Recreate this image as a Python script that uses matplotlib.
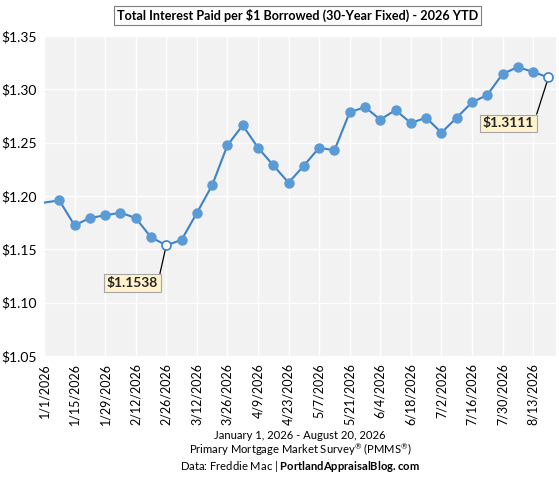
import datetime
import numpy as np
import matplotlib
matplotlib.use("Agg")
import matplotlib.pyplot as plt

plt.rcParams['font.family'] = ['Lato', 'DejaVu Sans']
plt.rcParams['mathtext.fontset'] = 'custom'
plt.rcParams['mathtext.rm'] = 'Lato'
plt.rcParams['mathtext.bf'] = 'Lato:bold'

# weekly PMMS dates, 1/1/2026 .. 8/20/2026
start = datetime.date(2026, 1, 1)
dates = [start + datetime.timedelta(days=7 * i) for i in range(34)]
values = [1.1938, 1.1959, 1.1725, 1.1794, 1.1819, 1.1844, 1.1794, 1.1613,
          1.1538, 1.1588, 1.1841, 1.2100, 1.2475, 1.2663, 1.2453, 1.2288,
          1.2125, 1.2284, 1.2453, 1.2428, 1.2784, 1.2834, 1.2716, 1.2806,
          1.2684, 1.2734, 1.2594, 1.2734, 1.2878, 1.2947, 1.3144, 1.3209,
          1.3163, 1.3111]
tick_dates = [start + datetime.timedelta(days=14 * i) for i in range(17)]
tick_labels = ["{}/{}/{}".format(d.month, d.day, d.year) for d in tick_dates]
yticks = [1.05, 1.10, 1.15, 1.20, 1.25, 1.30, 1.35]

blue = '#5B9BD5'
x = np.array([(d - start).days for d in dates])
tx = np.array([(d - start).days for d in tick_dates])
vals = np.array(values)

imin = int(np.argmin(vals))
ilast = len(vals) - 1
filled = [i for i in range(1, len(vals)) if i not in (imin, ilast)]

fig = plt.figure(figsize=(5.59, 4.8), dpi=100)
ax = fig.add_axes([0.0787, 0.2583, 0.916, 0.6667])
ax.set_facecolor('#F2F2F2')
for s in ax.spines.values():
    s.set_visible(False)

ax.plot(x, vals, color='#3E82C8', lw=1.5, zorder=3)
ax.plot(x[filled], vals[filled], 'o', color=blue, ms=6.5, zorder=4)
ax.plot(x[[imin, ilast]], vals[[imin, ilast]], 'o', mfc='white', mec='#3E82C8',
        mew=1.2, ms=6.5, zorder=5, clip_on=False)

ax.set_xlim(0, 234.5)
ax.set_ylim(1.05, 1.35)
ax.set_yticks(yticks)
ax.set_yticklabels(["${:.2f}".format(v) for v in yticks], fontsize=10)
ax.set_xticks(tx)
ax.set_xticklabels(tick_labels, rotation=90, fontsize=9)
ax.tick_params(length=0, pad=5)
ax.grid(True, color='white', lw=1)
ax.set_axisbelow(True)

box = dict(boxstyle='square,pad=0.2', fc='#FFF2CC', ec='#A6A6A6', lw=0.8)
ax.annotate("${:.4f}".format(vals[imin]), xy=(x[imin], vals[imin]),
            xytext=(-24.5, -27), textcoords='offset points', ha='center', va='center',
            fontsize=10, fontweight='bold', color='#262626', bbox=box,
            arrowprops=dict(arrowstyle='-', color='black', lw=0.9,
                            shrinkA=0, shrinkB=3, relpos=(1, 0.5)))
ax.annotate("${:.4f}".format(vals[ilast]), xy=(x[ilast], vals[ilast]),
            xytext=(-29, -33), textcoords='offset points', ha='center', va='center',
            fontsize=10, fontweight='bold', color='#262626', bbox=box,
            arrowprops=dict(arrowstyle='-', color='black', lw=0.9,
                            shrinkA=0, shrinkB=3, relpos=(1, 0.5)))

fig.text(0.532, 0.968, "Total Interest Paid per $1 Borrowed (30-Year Fixed) - 2026 YTD",
         ha='center', va='center', fontsize=9.1, fontweight='bold',
         bbox=dict(boxstyle='square,pad=0.25', fc='white', ec='#7F7F7F', lw=0.8))

fig.text(0.537, 0.093, "January 1, 2026 - August 20, 2026", ha='center', va='center', fontsize=8.1)
fig.text(0.537, 0.062, r"Primary Mortgage Market Survey$^{\circledR}$ (PMMS$^{\circledR}$)",
         ha='center', va='center', fontsize=8.1)
fig.text(0.537, 0.029, r"Data: Freddie Mac | $\mathbf{PortlandAppraisalBlog.com}$",
         ha='center', va='center', fontsize=8.1)

fig.savefig("out.png", dpi=100)
